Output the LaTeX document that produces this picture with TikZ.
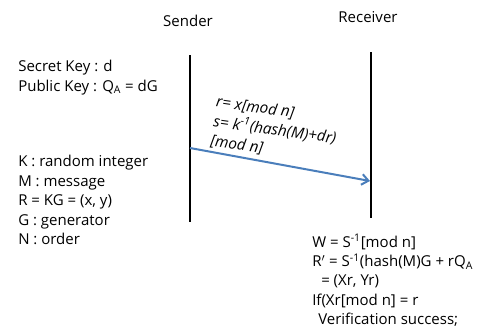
\documentclass[tikz,border=0pt]{standalone}
\usepackage{fontspec}
\setmainfont{Open Sans}
\usetikzlibrary{arrows.meta}
\definecolor{msgblue}{HTML}{4A7EBB}
\tikzset{
	party/.style={font=\fontsize{11.25}{14.6}\selectfont},
	note/.style={align=left,inner sep=0pt,anchor=north west,font=\fontsize{11.25}{14.6}\selectfont},
	life/.style={line width=1.8pt},
	msg/.style={msgblue,line width=1.5pt,-{Straight Barb[length=5pt,width=8pt]}}
}
\begin{document}
\begin{tikzpicture}[x=0.75pt,y=-0.75pt]
	\useasboundingbox (0,0) rectangle (497,329);
	\node[party] (S) at (188,21) {Sender};
	\node[party] (R) at (368,17) {Receiver};
	\coordinate (Stop) at (190,55);
	\coordinate (Sbot) at (190,222);
	\coordinate (Rtop) at (371,52);
	\coordinate (Rbot) at (371,218);
	\draw[life] (Stop)--(Sbot);
	\draw[life] (Rtop)--(Rbot);
	\coordinate (A) at (190,148);
	\coordinate (B) at (370,181);
	\draw[msg] (A)--(B);
	\node[note,rotate=-8,font=\fontsize{11.5}{14.8}\selectfont\itshape] (sig) at (217,95)
		{r= x[mod n]\\s= k\textsuperscript{-1}(hash(M)+dr)\\{}[mod n]};
	\node[note] (keys) at (18,60) {Secret Key : d\\Public Key : Q\textsubscript{A} = dG};
	\node[note] (defs) at (18,155) {K : random integer\\M : message\\R = KG = (x, y)\\G : generator\\N : order};
	\node[note] (verify) at (312,234) {W = S\textsuperscript{-1}[mod n]\\R$'$ = S\textsuperscript{-1}(hash(M)G + rQ\textsubscript{A}\\\hspace{0.6em}= (Xr, Yr)\\If(Xr[mod n] = r\\\hspace{0.4em}Verification success;};
\end{tikzpicture}
\end{document}
